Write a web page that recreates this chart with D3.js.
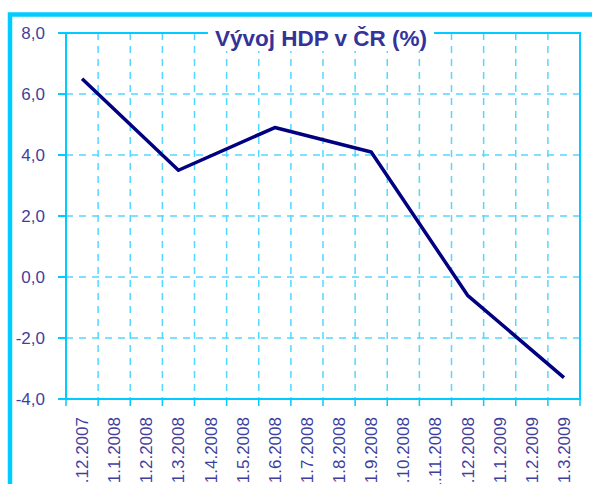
<!DOCTYPE html>
<meta charset="utf-8">
<html>
<head>
<title>Vývoj HDP v ČR</title>
<script src="https://d3js.org/d3.v7.min.js"></script>
<style>
    body { margin: 0; background: white; overflow: hidden; }
    .ylab { font: 17px "Liberation Sans", Arial, sans-serif; fill: #3f3f9f; }
    .xlab { font: 17px "Liberation Sans Narrow", "Arial Narrow", sans-serif; fill: #3f3f9f; }
    .title { font: bold 22.5px "Liberation Sans", Arial, sans-serif; fill: #333399; }
</style>
</head>
<body>
<div id="chart"></div>
<script>

// months on the x axis, GDP only given quarterly
const months = ["1.12.2007", "1.1.2008", "1.2.2008", "1.3.2008", "1.4.2008", "1.5.2008",
    "1.6.2008", "1.7.2008", "1.8.2008", "1.9.2008", "1.10.2008", "1.11.2008",
    "1.12.2008", "1.1.2009", "1.2.2009", "1.3.2009"];
const hdp = [6.5, null, null, 3.5, null, null, 4.9, null, null, 4.1, null, null,
    -0.6, null, null, -3.3];
const yTicks = [-4, -2, 0, 2, 4, 6, 8];

const W = 592, H = 484;
const pLeft = 66, pRight = 580, pTop = 33, pBottom = 399;
const cyan = "#00ccff", grid = "#55d8ff";

const svg = d3.select("#chart").append("svg")
    .attr("width", W).attr("height", H);

// outer frame (cut off at right and bottom)
svg.append("rect")
    .attr("x", 10).attr("y", 14.5)
    .attr("width", W + 20).attr("height", H + 20)
    .attr("fill", "none").attr("stroke", cyan).attr("stroke-width", 4.5);

var x = d3.scaleBand().domain(months).range([pLeft, pRight]);
var y = d3.scaleLinear().domain([-4, 8]).range([pBottom, pTop]);

// category boundaries
var bounds = months.map(m => x(m)).concat([pRight]);

// vertical dashed grid
svg.selectAll(".vgrid")
    .data(bounds.slice(1, -1))
    .enter().append("line")
    .attr("x1", d => d).attr("x2", d => d)
    .attr("y1", pTop).attr("y2", pBottom)
    .attr("stroke", grid).attr("stroke-width", 1.5)
    .attr("stroke-dasharray", "7,6");

// horizontal dashed grid
svg.selectAll(".hgrid")
    .data(yTicks.slice(1, -1))
    .enter().append("line")
    .attr("x1", pLeft).attr("x2", pRight)
    .attr("y1", d => y(d)).attr("y2", d => y(d))
    .attr("stroke", grid).attr("stroke-width", 1.5)
    .attr("stroke-dasharray", "7,6");

// plot border
svg.append("rect")
    .attr("x", pLeft).attr("y", pTop)
    .attr("width", pRight - pLeft).attr("height", pBottom - pTop)
    .attr("fill", "none").attr("stroke", cyan).attr("stroke-width", 2);

// y ticks and labels
svg.selectAll(".ytick")
    .data(yTicks)
    .enter().append("line")
    .attr("x1", pLeft - 8).attr("x2", pLeft)
    .attr("y1", d => y(d)).attr("y2", d => y(d))
    .attr("stroke", cyan).attr("stroke-width", 2);

svg.selectAll(".ylab")
    .data(yTicks)
    .enter().append("text")
    .attr("class", "ylab")
    .attr("x", 45).attr("y", d => y(d) + 6)
    .attr("text-anchor", "end")
    .text(d => d3.format(".1f")(d).replace(".", ",").replace("−", "-"));

// x ticks and labels
svg.selectAll(".xtick")
    .data(bounds)
    .enter().append("line")
    .attr("x1", d => d).attr("x2", d => d)
    .attr("y1", pBottom).attr("y2", pBottom + 7)
    .attr("stroke", cyan).attr("stroke-width", 1.5);

svg.selectAll(".xlab")
    .data(months)
    .enter().append("text")
    .attr("class", "xlab")
    .attr("text-anchor", "end")
    .attr("transform", d => "translate(" + (x(d) + x.bandwidth() / 2 + 6) + "," + (pBottom + 18) + ") rotate(-90)")
    .text(d => d);

// line, connects the quarterly points only
var pts = months.map((m, i) => ({ m: m, v: hdp[i] })).filter(d => d.v !== null);
var line = d3.line()
    .x(d => x(d.m) + x.bandwidth() / 2)
    .y(d => y(d.v));

svg.append("path")
    .datum(pts)
    .attr("fill", "none")
    .attr("stroke", "#000080")
    .attr("stroke-width", 3.5)
    .attr("stroke-linejoin", "round")
    .attr("d", line);

// title with white box over the border
var title = svg.append("text")
    .attr("class", "title")
    .attr("x", 321).attr("y", 46)
    .attr("text-anchor", "middle")
    .text("Vývoj HDP v ČR (%)");
var bb = title.node().getBBox();
svg.insert("rect", ".title")
    .attr("x", bb.x - 7).attr("y", bb.y)
    .attr("width", bb.width + 14).attr("height", bb.height)
    .attr("fill", "white");

</script>
</body>
</html>
